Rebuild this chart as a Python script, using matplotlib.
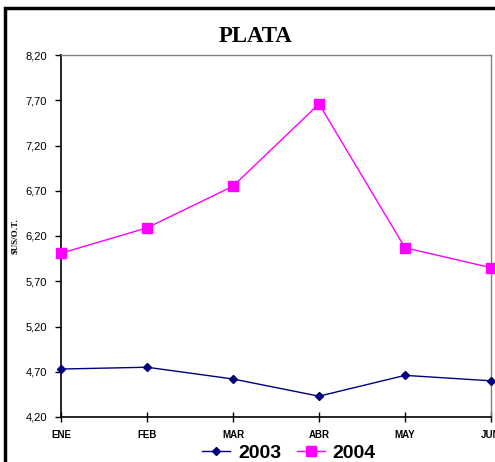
import matplotlib
matplotlib.use("Agg")
import matplotlib.pyplot as plt
from matplotlib.patches import Rectangle

months = ["ENE", "FEB", "MAR", "ABR", "MAY", "JUN"]
s2003 = [4.73, 4.75, 4.62, 4.43, 4.66, 4.60]
s2004 = [6.01, 6.29, 6.75, 7.66, 6.07, 5.85]
yticks = [4.20, 4.70, 5.20, 5.70, 6.20, 6.70, 7.20, 7.70, 8.20]

fig = plt.figure(figsize=(4.95, 4.62), dpi=100)
W, H = 495, 462
ax = fig.add_axes([61 / W, 1 - 417 / H, (491 - 61) / W, (417 - 55) / H])

x = list(range(len(months)))
l1, = ax.plot(x, s2003, color="#000080", marker="D", markersize=4, linewidth=1, label="2003", clip_on=False, zorder=3)
l2, = ax.plot(x, s2004, color="#FF00FF", marker="s", markersize=7, linewidth=1, label="2004", clip_on=False, zorder=3)

ax.set_xlim(0, len(months) - 1)
ax.set_ylim(4.20, 8.20)
ax.set_yticks(yticks)
ax.set_yticklabels([f"{v:.2f}".replace(".", ",") for v in yticks], fontsize=8, family="Liberation Sans")
ax.set_xticks(x)
ax.set_xticklabels(months, fontsize=7, fontweight="bold", family="Liberation Sans")
ax.tick_params(axis="both", direction="out", length=4, width=1, color="black")
ax.tick_params(axis="x", direction="inout", length=7, pad=6)
ax.tick_params(axis="y", pad=6)

for s in ["left", "bottom"]:
    ax.spines[s].set_color("black")
    ax.spines[s].set_linewidth(1.2)
for s in ["top", "right"]:
    ax.spines[s].set_color("#808080")
    ax.spines[s].set_linewidth(1)

fig.text(15 / W, 1 - 236 / H, "\\$US/O.T.", rotation=90, fontsize=6.5, fontweight="bold",
         family="Liberation Serif", ha="center", va="center")

fig.text(256 / W, 1 - 37 / H, "PLATA", fontsize=16.5, fontweight="bold", family="Liberation Serif",
         ha="center", va="center",
         bbox=dict(facecolor="white", edgecolor="none", pad=3))

# outer chart border (partially visible)
fig.patches.append(Rectangle((5 / W, -0.1), 1.2, (1 - 8 / H) + 0.1, transform=fig.transFigure,
                             fill=False, edgecolor="black", linewidth=2.5, zorder=0))

leg = fig.legend(handles=[l1, l2], loc="center", bbox_to_anchor=(289 / W, 1 - 453 / H), ncol=2,
                 frameon=False, prop=dict(family="Liberation Sans", weight="bold", size=14),
                 handlelength=1.45, handletextpad=0.4, columnspacing=0.8, borderpad=0)

fig.savefig("out.png", dpi=100)
